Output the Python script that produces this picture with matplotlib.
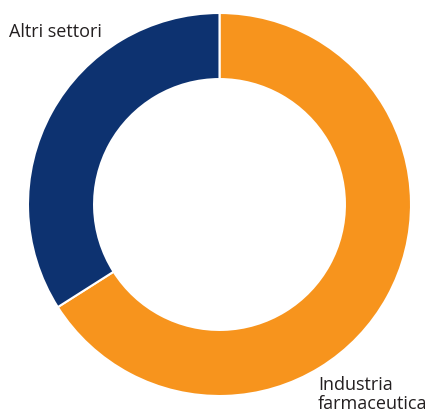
import matplotlib
matplotlib.use('Agg')
import matplotlib.pyplot as plt

# Share of sectors
labels = ['Industria\nfarmaceutica', 'Altri settori']
shares = [66, 34]
colors = ['#F7941D', '#0D3270']

plt.rcParams['font.family'] = ['Open Sans', 'DejaVu Sans']

fig = plt.figure(figsize=(4.32, 4.14), dpi=100)
ax = fig.add_axes([28 / 432, 17 / 414, 383 / 432, 383 / 414])
ax.pie(shares, colors=colors, startangle=90, counterclock=False, radius=1,
       wedgeprops=dict(width=0.345, edgecolor='white', linewidth=1.5))
ax.set_xlim(-1, 1)
ax.set_ylim(-1, 1)
ax.set_aspect('equal')
ax.axis('off')

fig.text(9 / 432, 1 - 37 / 414, labels[1], fontsize=13, color='#231F20',
         ha='left', va='baseline')
fig.text(318 / 432, 1 - 409 / 414, labels[0], fontsize=13, color='#231F20',
         ha='left', va='baseline', linespacing=1.05)

fig.savefig('out.png', dpi=100)
